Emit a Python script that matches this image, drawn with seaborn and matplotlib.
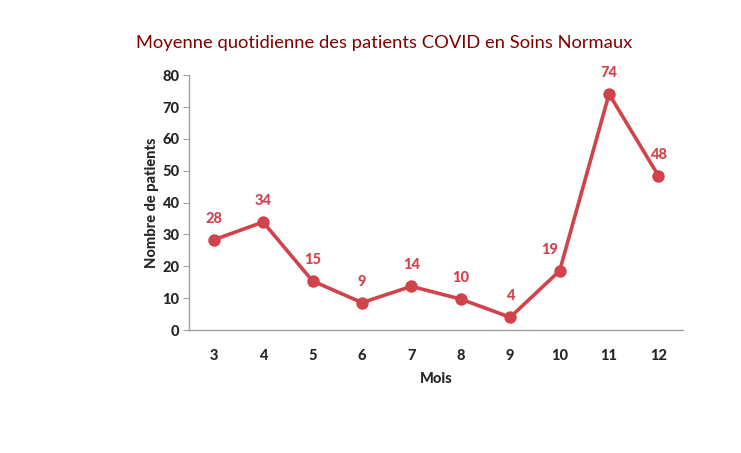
import matplotlib
matplotlib.use('Agg')
import matplotlib.pyplot as plt
import seaborn as sns
import pandas as pd

mois = ['3', '4', '5', '6', '7', '8', '9', '10', '11', '12']
patients = [28.3, 33.9, 15.4, 8.6, 13.7, 9.7, 4.0, 18.6, 74.1, 48.4]
etiquettes = [28, 34, 15, 9, 14, 10, 4, 19, 74, 48]
decalage_x = [0, 0, 0, 0, 0, 0, 0, -7, 0, 0]

df = pd.DataFrame({'Mois': mois, 'Patients': patients})

sns.set_style('white')
plt.rcParams['font.family'] = ['Lato', 'DejaVu Sans']

RED = '#D0434B'
W = 'black'
fig = plt.figure(figsize=(7.41, 4.53), dpi=100)
ax = fig.add_axes([0.255, 0.2715, 0.667, 0.5625])

sns.pointplot(data=df, x='Mois', y='Patients', color=RED, ax=ax,
              markers='o', linewidth=2.6, markersize=7)

for i, (v, lab, dx) in enumerate(zip(patients, etiquettes, decalage_x)):
    ax.annotate(str(lab), (i, v), xytext=(dx, 10), textcoords='offset points',
                ha='center', va='bottom', color=RED, fontsize=10.5, fontweight=W)

ax.set_xlim(-0.5, 9.5)
ax.set_ylim(0, 80)
ax.set_yticks(range(0, 81, 10))
ax.set_xlabel('Mois', fontsize=10.5, fontweight=W, labelpad=6)
ax.set_ylabel('Nombre de patients', fontsize=10.5, fontweight=W, labelpad=2)
for lbl in ax.get_xticklabels() + ax.get_yticklabels():
    lbl.set_fontweight(W)
    lbl.set_fontsize(10.5)
ax.tick_params(axis='x', length=0, pad=14)
ax.tick_params(axis='y', length=4, color='#A0A0A0', left=True, pad=3)
sns.despine(ax=ax)
for s in ['left', 'bottom']:
    ax.spines[s].set_color('#A0A0A0')
    ax.spines[s].set_linewidth(1)

fig.text(0.518, 0.905, 'Moyenne quotidienne des patients COVID en Soins Normaux',
         ha='center', va='center', color='#800000', fontsize=13.2)

fig.savefig('out.png', dpi=100)
